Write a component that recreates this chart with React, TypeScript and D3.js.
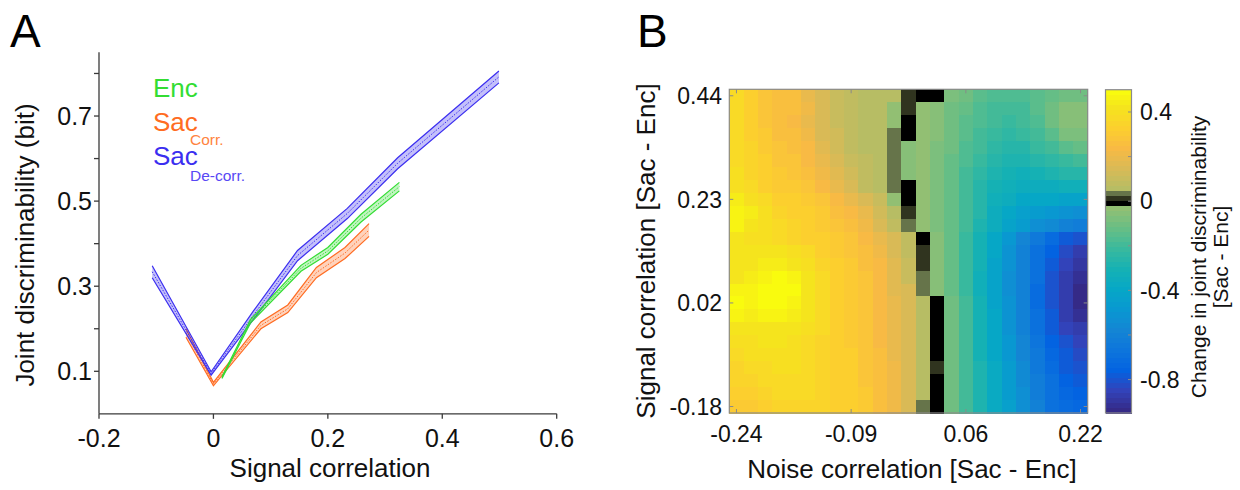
import * as d3 from 'd3';

const FONT = '"Liberation Sans", Arial, Helvetica, sans-serif';

// ---- Panel A: joint discriminability vs signal correlation ----
const encSignal = [0.015, 0.065, 0.153, 0.2, 0.258, 0.325];
const encMean = [0.085, 0.218, 0.342, 0.383, 0.46, 0.534];
const encErr = [0.002, 0.004, 0.007, 0.008, 0.009, 0.01];

const corrSignal = [-0.048, 0.0, 0.083, 0.13, 0.18, 0.23, 0.272];
const corrMean = [0.19, 0.07, 0.208, 0.247, 0.332, 0.378, 0.432];
const corrErr = [0.01, 0.004, 0.008, 0.009, 0.012, 0.013, 0.015];

const decorrSignal = [-0.107, -0.004, 0.07, 0.147, 0.234, 0.322, 0.499];
const decorrMean = [0.334, 0.095, 0.232, 0.372, 0.471, 0.589, 0.792];
const decorrErr = [0.014, 0.004, 0.01, 0.012, 0.012, 0.013, 0.014];

const xTicksA = [-0.2, 0, 0.2, 0.4, 0.6];
const yTicksA = [0.1, 0.2, 0.3, 0.4, 0.5, 0.6, 0.7, 0.8];
const yLabelsA = [0.1, 0.3, 0.5, 0.7];

// ---- Panel B: change in joint discriminability [Sac - Enc] ----
// rows: signal correlation bins (top = 0.44 ... bottom = -0.18)
// cols: noise correlation bins (left = -0.24 ... right = 0.22)
const changeGrid = [
  [0.37, 0.33, 0.28, 0.26, 0.26, 0.20, 0.15, 0.10, 0.07, 0.06, 0.055, 0.06, 0.01, -0.01, -0.01, -0.08, -0.11, -0.14, -0.16, -0.17, -0.17, -0.15, -0.12, -0.10, -0.09],
  [0.37, 0.33, 0.29, 0.27, 0.26, 0.21, 0.15, 0.11, 0.07, 0.06, 0.05, -0.03, 0.01, -0.04, -0.05, -0.09, -0.13, -0.16, -0.18, -0.19, -0.18, -0.15, -0.10, -0.06, -0.05],
  [0.37, 0.34, 0.29, 0.27, 0.25, 0.20, 0.14, 0.10, 0.07, 0.055, 0.05, -0.03, -0.01, -0.04, -0.06, -0.10, -0.14, -0.17, -0.20, -0.21, -0.20, -0.17, -0.11, -0.06, -0.05],
  [0.37, 0.34, 0.30, 0.27, 0.26, 0.21, 0.16, 0.12, 0.08, 0.06, 0.05, 0.035, -0.01, -0.04, -0.06, -0.11, -0.15, -0.19, -0.22, -0.23, -0.22, -0.19, -0.14, -0.08, -0.07],
  [0.38, 0.35, 0.31, 0.28, 0.27, 0.23, 0.18, 0.13, 0.09, 0.06, 0.05, 0.035, -0.05, -0.04, -0.07, -0.11, -0.16, -0.20, -0.24, -0.25, -0.25, -0.22, -0.18, -0.14, -0.13],
  [0.38, 0.35, 0.32, 0.29, 0.28, 0.25, 0.20, 0.15, 0.10, 0.07, 0.05, 0.035, -0.05, -0.04, -0.07, -0.12, -0.17, -0.22, -0.26, -0.28, -0.28, -0.27, -0.24, -0.21, -0.20],
  [0.39, 0.36, 0.33, 0.30, 0.29, 0.26, 0.22, 0.17, 0.12, 0.08, 0.05, 0.035, -0.05, -0.04, -0.07, -0.12, -0.18, -0.23, -0.28, -0.31, -0.32, -0.31, -0.29, -0.27, -0.26],
  [0.40, 0.37, 0.34, 0.31, 0.30, 0.28, 0.24, 0.19, 0.14, 0.09, 0.06, 0.035, -0.01, -0.04, -0.07, -0.12, -0.19, -0.25, -0.30, -0.33, -0.35, -0.35, -0.34, -0.33, -0.33],
  [0.44, 0.40, 0.37, 0.34, 0.32, 0.30, 0.28, 0.25, 0.20, 0.15, 0.10, -0.03, -0.01, -0.04, -0.07, -0.12, -0.19, -0.26, -0.32, -0.36, -0.39, -0.40, -0.40, -0.41, -0.41],
  [0.47, 0.44, 0.39, 0.36, 0.34, 0.32, 0.30, 0.27, 0.24, 0.19, 0.13, 0.06, 0.01, -0.04, -0.07, -0.12, -0.20, -0.27, -0.34, -0.39, -0.43, -0.46, -0.48, -0.50, -0.52],
  [0.46, 0.43, 0.40, 0.37, 0.35, 0.33, 0.31, 0.29, 0.27, 0.22, 0.16, 0.08, 0.035, -0.04, -0.07, -0.12, -0.20, -0.28, -0.35, -0.41, -0.47, -0.52, -0.56, -0.60, -0.63],
  [0.42, 0.40, 0.40, 0.38, 0.36, 0.34, 0.32, 0.30, 0.28, 0.24, 0.19, 0.15, 0.08, -0.01, -0.05, -0.12, -0.21, -0.30, -0.39, -0.48, -0.57, -0.65, -0.72, -0.77, -0.80],
  [0.42, 0.41, 0.42, 0.41, 0.40, 0.37, 0.34, 0.31, 0.29, 0.26, 0.21, 0.16, 0.09, 0.01, -0.05, -0.12, -0.21, -0.31, -0.40, -0.50, -0.59, -0.68, -0.76, -0.82, -0.86],
  [0.42, 0.42, 0.44, 0.44, 0.43, 0.39, 0.35, 0.32, 0.30, 0.27, 0.23, 0.17, 0.10, 0.01, -0.05, -0.12, -0.21, -0.31, -0.41, -0.51, -0.60, -0.69, -0.78, -0.85, -0.90],
  [0.43, 0.45, 0.47, 0.48, 0.47, 0.42, 0.37, 0.33, 0.31, 0.28, 0.24, 0.18, 0.11, 0.035, -0.05, -0.12, -0.21, -0.32, -0.42, -0.53, -0.60, -0.70, -0.80, -0.86, -0.92],
  [0.46, 0.46, 0.49, 0.49, 0.48, 0.43, 0.38, 0.34, 0.31, 0.28, 0.25, 0.18, 0.14, 0.035, -0.05, -0.12, -0.21, -0.32, -0.42, -0.52, -0.61, -0.72, -0.80, -0.87, -0.94],
  [0.48, 0.47, 0.49, 0.49, 0.47, 0.42, 0.38, 0.34, 0.31, 0.28, 0.25, 0.19, 0.14, 0.05, -0.01, -0.11, -0.20, -0.31, -0.41, -0.51, -0.60, -0.71, -0.80, -0.87, -0.93],
  [0.46, 0.45, 0.47, 0.47, 0.45, 0.41, 0.37, 0.34, 0.31, 0.28, 0.25, 0.19, 0.15, 0.05, -0.01, -0.11, -0.20, -0.30, -0.40, -0.50, -0.60, -0.70, -0.79, -0.86, -0.91],
  [0.41, 0.42, 0.42, 0.42, 0.41, 0.39, 0.37, 0.34, 0.31, 0.28, 0.25, 0.19, 0.15, 0.05, -0.01, -0.11, -0.20, -0.30, -0.40, -0.50, -0.59, -0.68, -0.77, -0.84, -0.88],
  [0.39, 0.40, 0.41, 0.41, 0.40, 0.38, 0.36, 0.34, 0.31, 0.28, 0.25, 0.20, 0.15, 0.05, -0.01, -0.11, -0.20, -0.30, -0.39, -0.49, -0.58, -0.67, -0.75, -0.81, -0.85],
  [0.38, 0.39, 0.40, 0.40, 0.40, 0.38, 0.36, 0.34, 0.32, 0.29, 0.26, 0.20, 0.15, 0.05, -0.01, -0.11, -0.20, -0.30, -0.39, -0.48, -0.57, -0.65, -0.73, -0.79, -0.82],
  [0.36, 0.37, 0.38, 0.39, 0.39, 0.38, 0.36, 0.34, 0.32, 0.29, 0.26, 0.21, 0.15, 0.05, 0.01, -0.11, -0.20, -0.29, -0.38, -0.47, -0.56, -0.64, -0.71, -0.77, -0.80],
  [0.35, 0.36, 0.37, 0.38, 0.38, 0.37, 0.36, 0.34, 0.32, 0.29, 0.26, 0.21, 0.15, 0.05, -0.01, -0.10, -0.20, -0.29, -0.38, -0.46, -0.55, -0.63, -0.70, -0.75, -0.78],
  [0.33, 0.34, 0.36, 0.37, 0.37, 0.37, 0.36, 0.34, 0.32, 0.30, 0.27, 0.21, 0.15, 0.05, -0.01, -0.10, -0.20, -0.29, -0.37, -0.46, -0.54, -0.62, -0.69, -0.74, -0.76],
  [0.30, 0.30, 0.33, 0.35, 0.36, 0.36, 0.35, 0.34, 0.32, 0.30, 0.27, 0.22, 0.16, 0.035, -0.01, -0.10, -0.20, -0.29, -0.37, -0.45, -0.54, -0.61, -0.68, -0.72, -0.74],
];

const noiseTickIdx = [0, 8, 16, 24];
const noiseTickLabels = ['-0.24', '-0.09', '0.06', '0.22'];
const signalTickIdx = [0, 8, 16, 24];
const signalTickLabels = ['0.44', '0.23', '0.02', '-0.18'];
const cbarTicks = [0.4, 0.2, 0, -0.2, -0.4, -0.6, -0.8];
const cbarLabels = [0.4, 0, -0.4, -0.8];

// parula-like colormap, 64 levels, with the levels around zero darkened
const CMIN = -0.95;
const CMAX = 0.5;
const NC = 64;
const parulaStops = [0, 4, 8, 12, 16, 20, 24, 28, 32, 36, 40, 44, 48, 52, 56, 60, 63].map((i) => i / 63);
const parulaColors = ['#352a87', '#3243ba', '#0363e1', '#0d75dc', '#1485d4', '#0998d1', '#06a7c6', '#15b1b4',
  '#38b99e', '#65be86', '#92bf73', '#b7bd64', '#d9ba56', '#f8ba44', '#fccf2e', '#f5e41d', '#f9fb0e'];
const parula = d3.scaleLinear<string>().domain(parulaStops).range(parulaColors).interpolate(d3.interpolateRgb);
const zeroBand: Record<number, string> = { 41: '#000000', 42: '#30341f', 43: '#66744a' };

const levelColor = (k: number) => zeroBand[k] ?? parula(k / (NC - 1));
const valueColor = (v: number) => {
  const k = Math.max(0, Math.min(NC - 1, Math.floor(((v - CMIN) / (CMAX - CMIN)) * NC)));
  return levelColor(k);
};

const xA = d3.scaleLinear().domain([-0.2, 0.6]).range([99, 556.7]);
const yA = d3.scaleLinear().domain([0, 0.85]).range([413.85, 52.2]);

const xB = d3.scaleBand<number>().domain(d3.range(25)).range([729.3, 1087.7]);
const yB = d3.scaleBand<number>().domain(d3.range(25)).range([89.3, 413]);
const yC = d3.scaleLinear().domain([CMIN, CMAX]).range([413, 89.7]);

type Pt = { x: number; m: number; e: number };

function Band({ xs, ms, es, color }: { xs: number[]; ms: number[]; es: number[]; color: string }) {
  const pts: Pt[] = xs.map((x, i) => ({ x, m: ms[i], e: es[i] }));
  const area = d3.area<Pt>().x((d) => xA(d.x)).y0((d) => yA(d.m - d.e)).y1((d) => yA(d.m + d.e));
  const edge = (s: number) => d3.line<Pt>().x((d) => xA(d.x)).y((d) => yA(d.m + s * d.e));
  return (
    <g>
      <path d={area(pts) ?? ''} fill={color} fillOpacity={0.3} stroke="none" />
      <path d={edge(1)(pts) ?? ''} fill="none" stroke={color} strokeWidth={1.2} />
      <path d={edge(-1)(pts) ?? ''} fill="none" stroke={color} strokeWidth={1.2} />
      <path d={edge(0)(pts) ?? ''} fill="none" stroke={color} strokeWidth={1} strokeDasharray="1.5,1.5" />
    </g>
  );
}

export default function App() {
  const axisColor = '#3a3a3a';
  const frameColor = '#8a8a8a';
  const bw = xB.bandwidth();
  const bh = yB.bandwidth();
  const step = (CMAX - CMIN) / NC;

  return (
    <svg width={1240} height={490} style={{ position: 'absolute', left: 0, top: 0, background: '#fff' }}
      fontFamily={FONT}>
      {/* ---------- Panel A ---------- */}
      <text x={10} y={47} fontSize={46} fill="#000">A</text>

      <Band xs={corrSignal} ms={corrMean} es={corrErr} color="#ff6c22" />
      <Band xs={decorrSignal} ms={decorrMean} es={decorrErr} color="#3b2ef0" />
      <Band xs={encSignal} ms={encMean} es={encErr} color="#33dd33" />

      <line x1={xA(-0.2)} x2={xA(-0.2)} y1={yA(0.85)} y2={yA(0)} stroke={axisColor} strokeWidth={1.3} />
      <line x1={xA(-0.2)} x2={xA(0.6)} y1={yA(0)} y2={yA(0)} stroke={axisColor} strokeWidth={1.3} />
      {yTicksA.map((t) => (
        <line key={'yt' + t} x1={xA(-0.2) - 5} x2={xA(-0.2)} y1={yA(t)} y2={yA(t)} stroke={axisColor} strokeWidth={1.3} />
      ))}
      {yLabelsA.map((t) => (
        <text key={'yl' + t} x={92} y={yA(t)} dy="0.36em" textAnchor="end" fontSize={25} fill="#111">{String(t)}</text>
      ))}
      {xTicksA.map((t) => (
        <g key={'xt' + t}>
          <line x1={xA(t)} x2={xA(t)} y1={yA(0)} y2={yA(0) + 5} stroke={axisColor} strokeWidth={1.3} />
          <text x={xA(t)} y={447} textAnchor="middle" fontSize={25} fill="#111">{String(t)}</text>
        </g>
      ))}
      <text x={330} y={477} textAnchor="middle" fontSize={26} fill="#111">Signal correlation</text>
      <text transform="translate(34,245) rotate(-90)" textAnchor="middle" fontSize={26} fill="#111">
        Joint discriminability (bit)
      </text>

      {/* legend */}
      <text x={153} y={97} fontSize={26} fill="#33dd33">Enc</text>
      <text x={153} y={131} fontSize={26} fill="#ff6c22">Sac</text>
      <text x={190} y={145} fontSize={15.5} fill="#ff8440">Corr.</text>
      <text x={153} y={165} fontSize={26} fill="#3b2ef0">Sac</text>
      <text x={190} y={181} fontSize={15.5} fill="#5848f5">De-corr.</text>

      {/* ---------- Panel B ---------- */}
      <text x={637} y={47} fontSize={46} fill="#000">B</text>

      <g shapeRendering="crispEdges">
        {changeGrid.map((row, r) =>
          row.map((v, c) => (
            <rect key={r + '-' + c} x={xB(c)} y={yB(r)} width={bw + 0.6} height={bh + 0.6} fill={valueColor(v)} />
          ))
        )}
      </g>
      <rect x={729.3} y={89.3} width={1087.7 - 729.3} height={413 - 89.3} fill="none" stroke={frameColor} strokeWidth={1.2} />
      {noiseTickIdx.map((i) => {
        const cx = (xB(i) ?? 0) + bw / 2;
        return (
          <g key={'nx' + i}>
            <line x1={cx} x2={cx} y1={413} y2={409} stroke={frameColor} strokeWidth={1} />
            <line x1={cx} x2={cx} y1={89.3} y2={93.3} stroke={frameColor} strokeWidth={1} />
          </g>
        );
      })}
      {signalTickIdx.map((i) => {
        const cy = (yB(i) ?? 0) + bh / 2;
        return (
          <g key={'sy' + i}>
            <line x1={729.3} x2={733.3} y1={cy} y2={cy} stroke={frameColor} strokeWidth={1} />
            <line x1={1087.7} x2={1083.7} y1={cy} y2={cy} stroke={frameColor} strokeWidth={1} />
          </g>
        );
      })}
      {noiseTickIdx.map((i, j) => (
        <text key={'nl' + i} x={(xB(i) ?? 0) + bw / 2} y={442} textAnchor="middle" fontSize={23} fill="#111">
          {noiseTickLabels[j]}
        </text>
      ))}
      {signalTickIdx.map((i, j) => (
        <text key={'sl' + i} x={722} y={(yB(i) ?? 0) + bh / 2} dy="0.36em" textAnchor="end" fontSize={23} fill="#111">
          {signalTickLabels[j]}
        </text>
      ))}
      <text x={912} y={478} textAnchor="middle" fontSize={26} fill="#111">Noise correlation [Sac - Enc]</text>
      <text transform="translate(655,251) rotate(-90)" textAnchor="middle" fontSize={26} fill="#111">
        Signal correlation [Sac - Enc]
      </text>

      {/* colorbar */}
      <g shapeRendering="crispEdges">
        {d3.range(NC).map((k) => (
          <rect key={'cb' + k} x={1105.5} y={yC(CMIN + (k + 1) * step)} width={26}
            height={yC(CMIN + k * step) - yC(CMIN + (k + 1) * step) + 0.5} fill={levelColor(k)} />
        ))}
      </g>
      <rect x={1105.5} y={89.7} width={26} height={413 - 89.7} fill="none" stroke={frameColor} strokeWidth={1.2} />
      {cbarTicks.map((t) => (
        <line key={'ct' + t} x1={1131.5} x2={1128} y1={yC(t)} y2={yC(t)} stroke={frameColor} strokeWidth={1} />
      ))}
      {cbarLabels.map((t) => (
        <text key={'cl' + t} x={1140} y={yC(t)} dy="0.36em" fontSize={23} fill="#111">{String(t)}</text>
      ))}
      <text transform="translate(1206,257) rotate(-90)" textAnchor="middle" fontSize={21} fill="#111">
        Change in joint discriminability
      </text>
      <text transform="translate(1228,257) rotate(-90)" textAnchor="middle" fontSize={21} fill="#111">
        [Sac - Enc]
      </text>
    </svg>
  );
}
